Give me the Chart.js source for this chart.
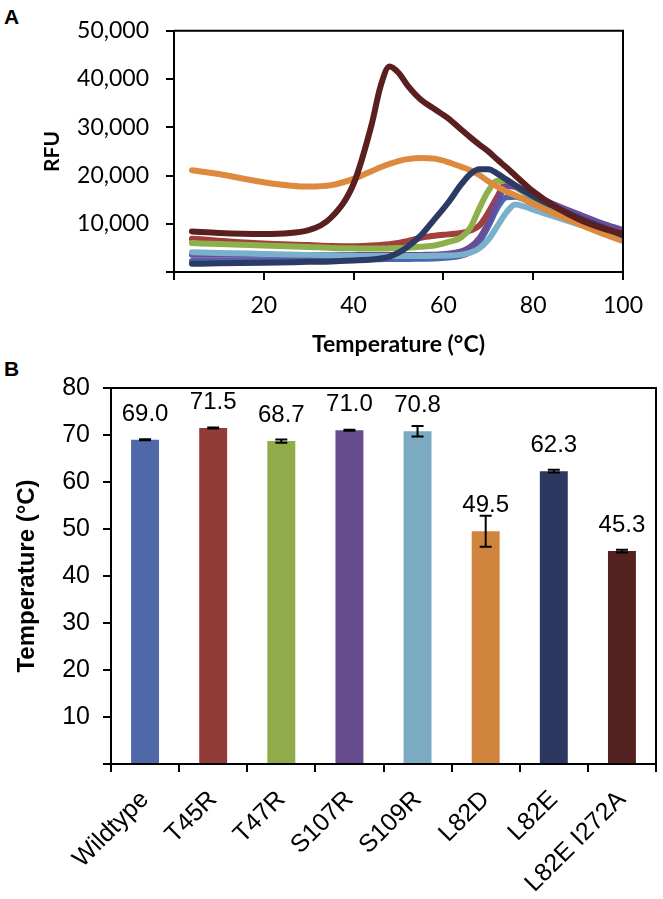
<!DOCTYPE html>
<html>
<head>
<meta charset="utf-8">
<script src="https://cdn.jsdelivr.net/npm/chart.js@4.4.0/dist/chart.umd.min.js"></script>
<style>
  body { margin: 0; background: #fff; width: 663px; height: 899px; position: relative; overflow: hidden; }
  canvas { position: absolute; left: 0; }
  .panel { position: absolute; font: bold 21px "Liberation Sans", Arial, sans-serif; color: #000; }
</style>
</head>
<body>
<div class="panel" style="left:4px;top:5px;">A</div>
<div class="panel" style="left:4px;top:357px;">B</div>
<canvas id="melt" width="663" height="360" style="top:0"></canvas>
<canvas id="tm" width="663" height="539" style="top:360px"></canvas>
<script>
// ---- Panel A: melt curves (RFU vs temperature) ----
var temps = [4, 10, 20, 30, 35, 40, 44, 46, 48, 50, 52, 55, 58, 61, 64, 66, 68, 70, 72, 74, 76, 78, 80, 85, 90, 95, 100];
var rfuWildtype = [2300, 2350, 2400, 2500, 2550, 2600, 2650, 2650, 2700, 2700, 2700, 2750, 2800, 3000, 3400, 4200, 6200, 9500, 13300, 15500, 15600, 15100, 14600, 12900, 11300, 9500, 7600];
var rfuT45R = [6900, 6500, 5900, 5600, 5400, 5350, 5500, 5600, 5750, 6000, 6400, 7100, 7500, 7800, 8100, 8600, 9600, 12300, 15600, 18400, 17600, 16600, 15700, 13600, 11700, 9700, 7700];
var rfuT47R = [6000, 5800, 5500, 5200, 5000, 4900, 4850, 4850, 4900, 4950, 5050, 5250, 5500, 6200, 7200, 9200, 13200, 16800, 18900, 18800, 17700, 16500, 15400, 13200, 11200, 9000, 6900];
var rfuS107R = [3600, 3600, 3550, 3500, 3500, 3500, 3500, 3500, 3500, 3500, 3500, 3550, 3600, 3800, 4300, 5200, 7000, 10200, 14500, 17800, 17700, 16800, 15900, 13900, 12000, 10200, 8700];
var rfuS109R = [4100, 3950, 3750, 3550, 3450, 3350, 3300, 3300, 3300, 3300, 3300, 3300, 3350, 3400, 3600, 4000, 4900, 6700, 9500, 12300, 14000, 13600, 12900, 11400, 9900, 8500, 7200];
var rfuL82D = [21100, 20300, 18600, 17700, 18000, 19300, 20900, 21700, 22400, 23000, 23400, 23650, 23500, 22800, 21800, 21100, 20100, 18800, 17700, 16700, 15900, 15000, 14100, 12000, 10000, 8100, 6400];
var rfuL82E = [1700, 1800, 1900, 2100, 2200, 2400, 2600, 2800, 3200, 4000, 5200, 7600, 10900, 14300, 18200, 20300, 21300, 21300, 20400, 19200, 18000, 16800, 15700, 13400, 11300, 9400, 7600];
var rfuL82EI272A = [8400, 8100, 7900, 8700, 11300, 18300, 30500, 38500, 42600, 41300, 38700, 35700, 33800, 31900, 29500, 27900, 26400, 25000, 23300, 21700, 20000, 18300, 16700, 13500, 11000, 9200, 7900];

// ---- Panel B: melting temperatures ----
var mutants = ["Wildtype", "T45R", "T47R", "S107R", "S109R", "L82D", "L82E", "L82E I272A"];
var tmMeans = [69.0, 71.5, 68.7, 71.0, 70.8, 49.5, 62.3, 45.3];
var tmErrors = [0.1, 0.1, 0.35, 0.1, 1.1, 3.3, 0.3, 0.3];

var lineColors = ["#4A66AC", "#A03F3C", "#8DB04A", "#6A4C99", "#7AB0CB", "#DE8A3E", "#2C3B66", "#5A1F1E"];
var barColors = ["#4F69A8", "#923C3A", "#8FAB4A", "#664B8D", "#7BABC3", "#D1843E", "#2D3860", "#522120"];
var curves = [rfuWildtype, rfuT45R, rfuT47R, rfuS107R, rfuS109R, rfuL82D, rfuL82E, rfuL82EI272A];

var frameBox = {
  id: "frameBox",
  afterDraw: function (chart) {
    var a = chart.chartArea, c = chart.ctx;
    c.save();
    c.strokeStyle = "#000";
    c.lineWidth = 2;
    c.beginPath();
    c.moveTo(a.left, a.top);
    c.lineTo(a.right, a.top);
    c.lineTo(a.right, a.bottom);
    c.stroke();
    c.restore();
  }
};

// nudge layout padding until the plot area sits where the figure has it
function placeArea(chart, want) {
  for (var k = 0; k < 3; k++) {
    var a = chart.chartArea, p = chart.options.layout.padding;
    p.left += want.left - a.left;
    p.top += want.top - a.top;
    p.right += a.right - want.right;
    p.bottom += a.bottom - want.bottom;
    chart.update();
  }
}

var calibri = "Lato, 'Open Sans', sans-serif";
var arial = "'Liberation Sans', Arial, sans-serif";

var melt = new Chart(document.getElementById("melt"), {
  type: "line",
  data: {
    datasets: curves.map(function (vals, i) {
      return {
        label: mutants[i],
        data: temps.map(function (t, k) { return { x: t, y: vals[k] }; }),
        borderColor: lineColors[i],
        borderWidth: 6,
        borderCapStyle: "round",
        pointRadius: 0,
        cubicInterpolationMode: "monotone",
        order: curves.length - i
      };
    })
  },
  options: {
    responsive: false,
    animation: false,
    layout: { padding: { left: 40, top: 24, right: 40, bottom: 0 } },
    plugins: { legend: { display: false }, tooltip: { enabled: false } },
    scales: {
      x: {
        type: "linear", min: 0, max: 100,
        afterFit: function (s) { s.height = 88; },
        border: { color: "#000", width: 2 },
        grid: { drawOnChartArea: false, color: "#000", lineWidth: 2, tickLength: 8 },
        ticks: {
          stepSize: 20, color: "#000", padding: 12,
          font: { family: calibri, size: 23 },
          callback: function (v) { return v === 0 ? "" : v; }
        },
        title: { display: true, text: "Temperature (°C)", color: "#000", padding: { top: 0, bottom: 2 },
          font: { family: calibri, size: 23, weight: "bold" } }
      },
      y: {
        min: 0, max: 50000,
        afterFit: function (s) { s.width = 134; },
        border: { color: "#000", width: 2 },
        grid: { drawOnChartArea: false, color: "#000", lineWidth: 2, tickLength: 8 },
        ticks: {
          stepSize: 10000, color: "#000", padding: 17,
          font: { family: calibri, size: 23 },
          callback: function (v) { return v === 0 ? "" : v.toLocaleString("en-US"); }
        },
        title: { display: true, text: "RFU", color: "#000", padding: 0,
          font: { family: calibri, size: 21, weight: "bold" } }
      }
    }
  },
  plugins: [frameBox]
});
placeArea(melt, { left: 174, top: 24, right: 623, bottom: 272 });

var errorBars = {
  id: "errorBars",
  afterDatasetsDraw: function (chart) {
    var meta = chart.getDatasetMeta(0), y = chart.scales.y, c = chart.ctx;
    c.save();
    c.strokeStyle = "#000";
    c.lineWidth = 2;
    meta.data.forEach(function (bar, i) {
      var top = y.getPixelForValue(tmMeans[i] + tmErrors[i]);
      var bot = y.getPixelForValue(tmMeans[i] - tmErrors[i]);
      c.beginPath();
      c.moveTo(bar.x, top); c.lineTo(bar.x, bot);
      c.moveTo(bar.x - 6, top); c.lineTo(bar.x + 6, top);
      c.moveTo(bar.x - 6, bot); c.lineTo(bar.x + 6, bot);
      c.stroke();
    });
    c.fillStyle = "#000";
    c.font = "24px " + arial;
    c.textAlign = "center";
    c.textBaseline = "alphabetic";
    meta.data.forEach(function (bar, i) {
      c.fillText(tmMeans[i].toFixed(1), bar.x, y.getPixelForValue(tmMeans[i]) - 19);
    });
    c.restore();
  }
};

var tm = new Chart(document.getElementById("tm"), {
  type: "bar",
  data: {
    labels: mutants,
    datasets: [{
      data: tmMeans,
      backgroundColor: barColors,
      borderWidth: 0,
      categoryPercentage: 1,
      barPercentage: 0.41
    }]
  },
  options: {
    responsive: false,
    animation: false,
    layout: { padding: { left: 13, top: 24, right: 7, bottom: 0 } },
    plugins: { legend: { display: false }, tooltip: { enabled: false } },
    scales: {
      x: {
        afterFit: function (s) { s.height = 135; },
        border: { color: "#000", width: 2 },
        grid: { drawOnChartArea: false, color: "#000", lineWidth: 2, tickLength: 8 },
        ticks: {
          color: "#000", padding: 13, minRotation: 45, maxRotation: 45, autoSkip: false,
          font: { family: arial, size: 25 }
        }
      },
      y: {
        min: 0, max: 80,
        afterFit: function (s) { s.width = 98; },
        border: { color: "#000", width: 2 },
        grid: { drawOnChartArea: false, color: "#000", lineWidth: 2, tickLength: 8 },
        ticks: {
          stepSize: 10, color: "#000", padding: 13,
          font: { family: arial, size: 25 },
          callback: function (v) { return v === 0 ? "" : v; }
        },
        title: { display: true, text: "Temperature (°C)", color: "#000", padding: 0,
          font: { family: arial, size: 24, weight: "bold" } }
      }
    }
  },
  plugins: [frameBox, errorBars]
});
placeArea(tm, { left: 111, top: 24, right: 656, bottom: 404 });
</script>
</body>
</html>
